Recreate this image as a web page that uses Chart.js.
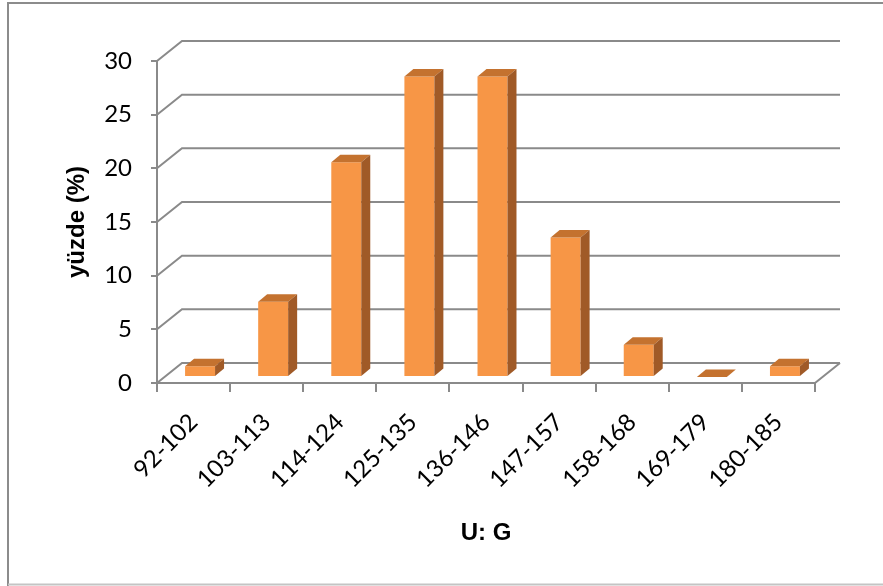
<!DOCTYPE html>
<html>
<head>
<meta charset="utf-8">
<style>
  html, body { margin: 0; padding: 0; background: #ffffff; }
  #wrap { width: 883px; height: 586px; position: relative; }
</style>
<script src="https://cdn.jsdelivr.net/npm/chart.js@4.4.1/dist/chart.umd.min.js"></script>
</head>
<body>
<div id="wrap"><canvas id="chart" width="883" height="586"></canvas></div>
<script>
// Data
const categories = ['92-102', '103-113', '114-124', '125-135', '136-146', '147-157', '158-168', '169-179', '180-185'];
const percentages = [1, 7, 20, 28, 28, 13, 3, 0, 1];
const yTickValues = [0, 5, 10, 15, 20, 25, 30];
const xAxisTitle = 'U: G';
const yAxisTitle = 'yüzde (%)';

// Styling
const GRID = '#8a8a8a';
const FRONT = '#F79646';
const TOP = '#C4722F';
const SIDE = '#A05A27';

// Oblique projection of the 3D box: back wall offset, bar placement in depth
const WALL = { x: 25, y: -20 };
const BAR_FRONT = { x: 6.5, y: -6 };
const BAR_DEPTH = { x: 9, y: -7.5 };

const box3d = {
  id: 'box3d',
  beforeDraw(chart) {
    const ctx = chart.ctx;
    ctx.save();
    ctx.fillStyle = '#ffffff';
    ctx.fillRect(0, 0, chart.width, chart.height);
    // outer frame
    ctx.lineWidth = 2;
    ctx.strokeStyle = '#8c8c8c';
    ctx.beginPath();
    ctx.moveTo(8, chart.height);
    ctx.lineTo(8, 3);
    ctx.lineTo(chart.width, 3);
    ctx.stroke();
    ctx.strokeStyle = '#c4c4c4';
    ctx.beginPath();
    ctx.moveTo(8, 584.5);
    ctx.lineTo(chart.width, 584.5);
    ctx.stroke();
    ctx.restore();
  },
  beforeDatasetsDraw(chart) {
    const { ctx, chartArea: a, scales: { y } } = chart;
    ctx.save();
    ctx.strokeStyle = GRID;
    ctx.lineWidth = 2;
    ctx.lineJoin = 'miter';
    ctx.beginPath();
    yTickValues.forEach(v => {
      const py = y.getPixelForValue(v);
      ctx.moveTo(a.left, py);
      ctx.lineTo(a.left + WALL.x, py + WALL.y);
      ctx.lineTo(a.right + WALL.x, py + WALL.y);
    });
    const p0 = y.getPixelForValue(0);
    ctx.moveTo(a.right, p0);
    ctx.lineTo(a.right + WALL.x, p0 + WALL.y);
    ctx.stroke();
    ctx.restore();

    // bars sit inside the floor depth
    ctx.save();
    ctx.translate(BAR_FRONT.x, BAR_FRONT.y);
  },
  afterDatasetsDraw(chart) {
    const ctx = chart.ctx;
    const dx = BAR_DEPTH.x, dy = BAR_DEPTH.y;
    chart.getDatasetMeta(0).data.forEach(bar => {
      const { x, y, base, width } = bar.getProps(['x', 'y', 'base', 'width'], true);
      const l = x - width / 2, r = x + width / 2;
      ctx.fillStyle = TOP;
      ctx.beginPath();
      ctx.moveTo(l, y);
      ctx.lineTo(l + dx, y + dy);
      ctx.lineTo(r + dx, y + dy);
      ctx.lineTo(r, y);
      ctx.closePath();
      ctx.fill();
      if (base - y > 0.5) {
        ctx.fillStyle = SIDE;
        ctx.beginPath();
        ctx.moveTo(r, y);
        ctx.lineTo(r + dx, y + dy);
        ctx.lineTo(r + dx, base + dy);
        ctx.lineTo(r, base);
        ctx.closePath();
        ctx.fill();
      }
    });
    ctx.restore();
  }
};

Chart.defaults.font.family = 'Lato';

new Chart(document.getElementById('chart'), {
  type: 'bar',
  data: {
    labels: categories,
    datasets: [{
      data: percentages,
      backgroundColor: FRONT,
      borderWidth: 0,
      categoryPercentage: 1,
      barPercentage: 0.41,
      clip: false
    }]
  },
  options: {
    responsive: false,
    animation: false,
    devicePixelRatio: 1,
    layout: { padding: { left: 8, top: 61, right: 68, bottom: 0 } },
    plugins: { legend: { display: false }, tooltip: { enabled: false } },
    scales: {
      x: {
        grid: { display: true, drawOnChartArea: false, drawTicks: true, tickLength: 9, color: GRID, lineWidth: 2, offset: true },
        border: { display: true, color: GRID, width: 2 },
        ticks: { color: '#000000', font: { family: 'Lato', size: 24 }, minRotation: 45, maxRotation: 45, autoSkip: false, padding: 16 },
        title: { display: true, text: xAxisTitle, color: '#000000', font: { family: 'Liberation Sans', size: 24, weight: 'bold' }, padding: { top: 0, bottom: 38 } },
        afterFit(scale) { scale.height = 203; }
      },
      y: {
        min: 0,
        max: 30,
        afterBuildTicks(scale) { scale.ticks = yTickValues.map(v => ({ value: v })); },
        grid: { display: true, drawOnChartArea: false, drawTicks: true, tickLength: 6, color: GRID, lineWidth: 2 },
        border: { display: true, color: GRID, width: 2 },
        ticks: { color: '#000000', font: { family: 'Lato', size: 24 }, padding: 19 },
        title: { display: true, text: yAxisTitle, color: '#000000', font: { family: 'Liberation Sans', size: 24, weight: 'bold' }, padding: { top: 55, bottom: 0 } },
        afterFit(scale) { scale.width = 149; }
      }
    }
  },
  plugins: [box3d]
});
</script>
</body>
</html>
